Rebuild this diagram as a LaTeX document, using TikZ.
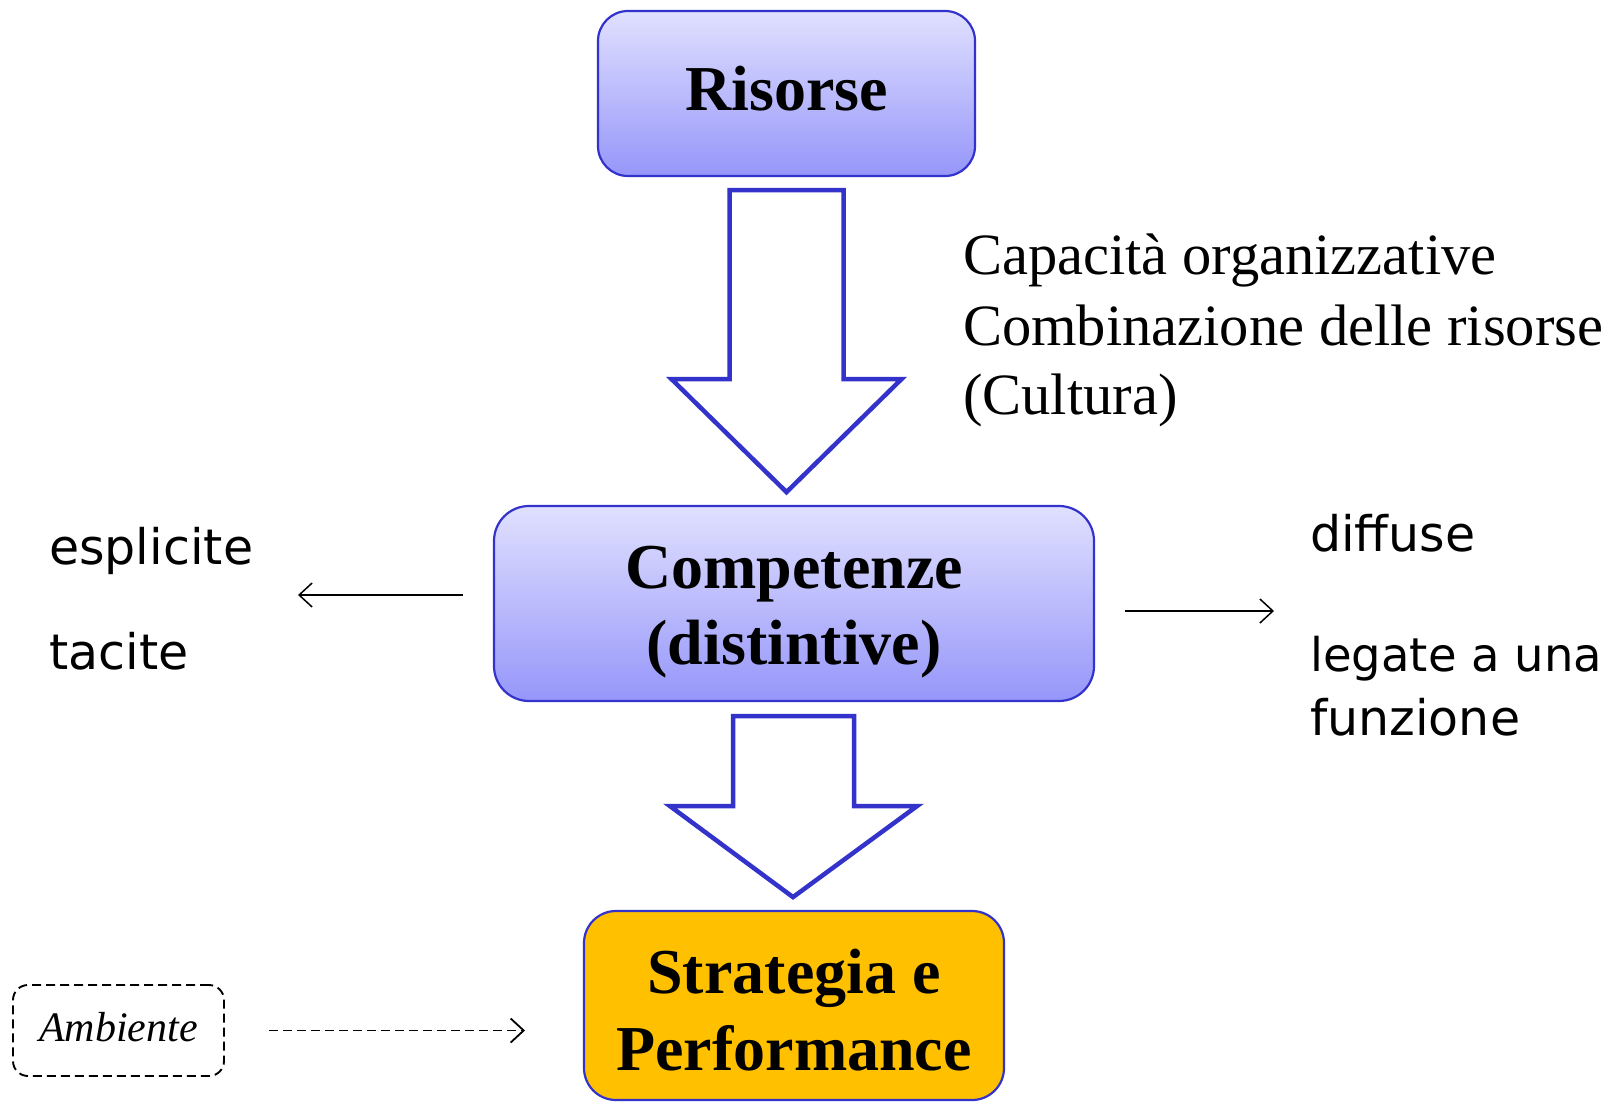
\documentclass[tikz,border=0pt]{standalone}
\usepackage{fontspec}
\setmainfont{Liberation Serif}
\newfontfamily\comicfont{DejaVu Sans}
\usetikzlibrary{calc,arrows.meta}
\definecolor{boxblue}{RGB}{51,51,204}
\definecolor{lavtop}{RGB}{224,224,255}
\definecolor{lavbot}{RGB}{150,150,250}
\definecolor{gold}{RGB}{255,192,0}
\tikzset{
  lavbox/.style={draw=boxblue, line width=2.2pt, top color=lavtop, bottom color=lavbot, inner sep=0pt},
  goldbox/.style={draw=boxblue, line width=2.2pt, fill=gold, inner sep=0pt},
  boldtxt/.style={font=\fontsize{64}{77}\selectfont\bfseries, anchor=base, inner sep=0pt},
  serifline/.style={font=\fontsize{58.5}{70}\selectfont, anchor=base west, inner sep=0pt},
  comictxt/.style={font=\comicfont\fontsize{49}{60}\selectfont, anchor=base west, inner sep=0pt},
  hollowarrow/.style={draw=boxblue, line width=4.5pt, fill=white, line join=miter},
  thinarrow/.style={line width=1.5pt, -{Straight Barb[length=13pt,width=24pt,line width=1.5pt]}},
  dasharrow/.style={line width=1.8pt, dash pattern=on 9pt off 5pt, -{Straight Barb[length=13pt,width=24pt,line width=1.8pt]}},
  ambbox/.style={draw, line width=1.9pt, dash pattern=on 9pt off 5pt, rounded corners=15pt, inner sep=0pt}
}
\begin{document}
\begin{tikzpicture}[x=1pt,y=-1pt]
\useasboundingbox (0,0) rectangle (1613,1102);
% boxes
\node[lavbox, rounded corners=30pt, minimum width=377pt, minimum height=165pt] (ris) at (786.5,93.5) {};
\node[lavbox, rounded corners=35pt, minimum width=600pt, minimum height=195pt] (comp) at (794,603.5) {};
\node[goldbox, rounded corners=32pt, minimum width=420pt, minimum height=189pt] (strat) at (794,1005.5) {};
\node[ambbox, minimum width=211pt, minimum height=91pt] (amb) at (118.5,1030.5) {};
% box texts
\node[boldtxt] (ristxt) at (786.5,111) {Risorse};
\node[boldtxt] (comptxtA) at (794,588) {Competenze};
\node[boldtxt] (comptxtB) at (794,664) {(distintive)};
\node[boldtxt] (strattxtA) at (794,993) {Strategia e};
\node[boldtxt] (strattxtB) at (794,1070) {Performance};
\node[font=\fontsize{42}{50}\selectfont\itshape, anchor=base, inner sep=0pt] (ambtxt) at (118.5,1041) {Ambiente};
% side texts
\node[serifline] (capA) at (963,274) {Capacità organizzative};
\node[serifline] (capB) at (963,345) {Combinazione delle risorse};
\node[serifline] (capC) at (963,414) {(Cultura)};
\node[comictxt] (espl) at (49,564) {esplicite};
\node[comictxt] (tac) at (49,669) {tacite};
\node[comictxt] (diff) at (1310,551) {diffuse};
\node[comictxt, font=\comicfont\fontsize{46.5}{60}\selectfont] (leg) at (1310,671) {legate a una};
\node[comictxt] (funz) at (1310,735) {funzione};
% big hollow arrows
\draw[hollowarrow] ($(ris.south)+(-57,13)$) -- ($(ris.south)+(57,13)$) -- ($(ris.south)+(57,202)$)
  -- ($(ris.south)+(115,202)$) -- ($(ris.south)+(0,315)$) -- ($(ris.south)+(-115,202)$)
  -- ($(ris.south)+(-57,202)$) -- cycle;
\draw[hollowarrow] ($(comp.south)+(-61,14)$) -- ($(comp.south)+(60,14)$) -- ($(comp.south)+(60,104)$)
  -- ($(comp.south)+(123,104)$) -- ($(comp.south)+(-1,195)$) -- ($(comp.south)+(-124,104)$)
  -- ($(comp.south)+(-61,104)$) -- cycle;
% thin arrows
\coordinate (lstart) at ($(comp.west)+(-30,-8.5)$);
\coordinate (lend) at (298,595);
\draw[thinarrow] (lstart) -- (lend);
\coordinate (rstart) at ($(comp.east)+(30,7.5)$);
\coordinate (rend) at (1274,611);
\draw[thinarrow] (rstart) -- (rend);
\coordinate (dstart) at ($(amb.east)+(44,0)$);
\coordinate (dend) at (525,1030.5);
\draw[dasharrow] (dstart) -- (dend);
\end{tikzpicture}
\end{document}
